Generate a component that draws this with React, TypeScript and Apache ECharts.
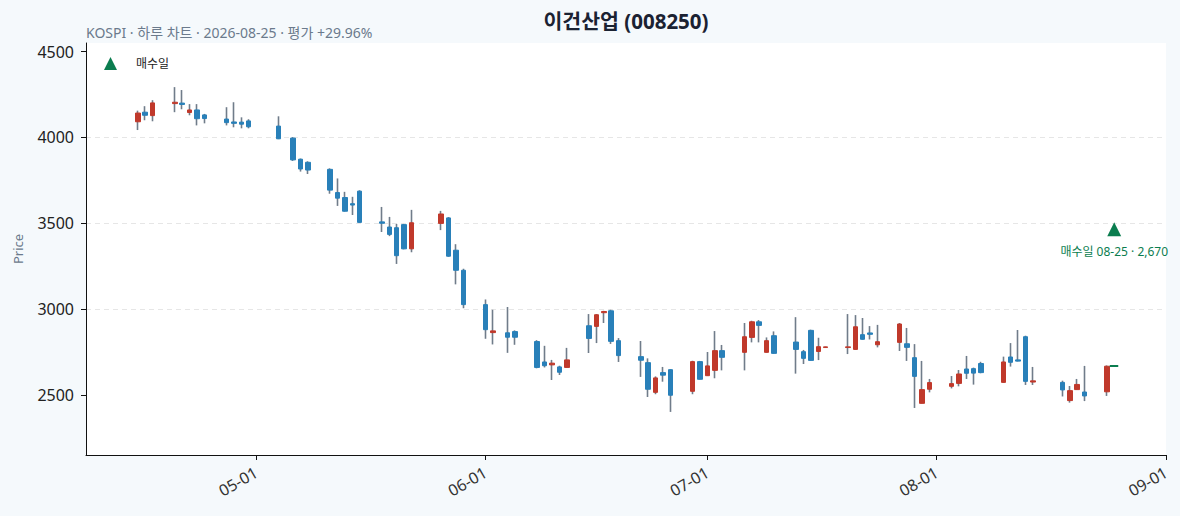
import React, { useEffect, useRef } from "react";
import * as echarts from "echarts";

// daily candles (KRW)
const dates = [
  "2026-04-15", "2026-04-16", "2026-04-17", "2026-04-20", "2026-04-21", "2026-04-22", "2026-04-23", "2026-04-24",
  "2026-04-27", "2026-04-28", "2026-04-29", "2026-04-30", "2026-05-04", "2026-05-06", "2026-05-07", "2026-05-08",
  "2026-05-11", "2026-05-12", "2026-05-13", "2026-05-14", "2026-05-15", "2026-05-18", "2026-05-19", "2026-05-20",
  "2026-05-21", "2026-05-22", "2026-05-26", "2026-05-27", "2026-05-28", "2026-05-29", "2026-06-01", "2026-06-02",
  "2026-06-04", "2026-06-05", "2026-06-08", "2026-06-09", "2026-06-10", "2026-06-11", "2026-06-12", "2026-06-15",
  "2026-06-16", "2026-06-17", "2026-06-18", "2026-06-19", "2026-06-22", "2026-06-23", "2026-06-24", "2026-06-25",
  "2026-06-26", "2026-06-29", "2026-06-30", "2026-07-01", "2026-07-02", "2026-07-03", "2026-07-06", "2026-07-07",
  "2026-07-08", "2026-07-09", "2026-07-10", "2026-07-13", "2026-07-14", "2026-07-15", "2026-07-16", "2026-07-17",
  "2026-07-20", "2026-07-21", "2026-07-22", "2026-07-23", "2026-07-24", "2026-07-27", "2026-07-28", "2026-07-29",
  "2026-07-30", "2026-07-31", "2026-08-03", "2026-08-04", "2026-08-05", "2026-08-06", "2026-08-07", "2026-08-10",
  "2026-08-11", "2026-08-12", "2026-08-13", "2026-08-14", "2026-08-18", "2026-08-19", "2026-08-20", "2026-08-21",
  "2026-08-24",
];
const opens = [
  4091, 4147, 4127, 4197, 4200, 4145, 4160, 4131, 4107, 4090, 4089, 4096, 4066, 3996, 3873, 3855,
  3814, 3679, 3650, 3614, 3687, 3508, 3478, 3474, 3492, 3351, 3499, 3531, 3343, 3226, 3026, 2863,
  2862, 2869, 2811, 2692, 2675, 2663, 2660, 2903, 2899, 2979, 2990, 2816, 2723, 2688, 2515, 2630,
  2647, 2521, 2694, 2612, 2643, 2758, 2748, 2835, 2926, 2748, 2845, 2808, 2752, 2876, 2753, 2776,
  2776, 2765, 2851, 2861, 2792, 2806, 2798, 2717, 2451, 2533, 2550, 2567, 2651, 2653, 2683, 2573,
  2721, 2704, 2839, 2575, 2573, 2467, 2531, 2517, 2518,
];
const closes = [
  4142, 4129, 4201, 4205, 4192, 4160, 4109, 4110, 4086, 4082, 4077, 4062, 3992, 3869, 3816, 3810,
  3693, 3646, 3570, 3606, 3505, 3500, 3435, 3311, 3351, 3503, 3554, 3308, 3226, 3026, 2880, 2873,
  2836, 2836, 2660, 2670, 2685, 2632, 2704, 2829, 2967, 2986, 2812, 2729, 2702, 2533, 2599, 2615,
  2498, 2694, 2591, 2669, 2758, 2719, 2839, 2926, 2905, 2816, 2742, 2765, 2713, 2701, 2781, 2780,
  2780, 2897, 2824, 2853, 2810, 2913, 2777, 2608, 2531, 2572, 2566, 2622, 2626, 2627, 2630, 2692,
  2690, 2697, 2579, 2582, 2529, 2525, 2561, 2494, 2667,
];
const lows = [
  4043, 4100, 4094, 4147, 4164, 4129, 4070, 4082, 4070, 4059, 4053, 4053, 3990, 3863, 3801, 3787,
  3672, 3601, 3568, 3548, 3503, 3449, 3425, 3263, 3348, 3331, 3460, 3305, 3144, 3005, 2827, 2794,
  2745, 2792, 2655, 2660, 2587, 2616, 2659, 2744, 2802, 2919, 2797, 2692, 2605, 2488, 2504, 2577,
  2401, 2504, 2590, 2611, 2597, 2643, 2643, 2806, 2806, 2747, 2741, 2624, 2680, 2700, 2703, 2775,
  2738, 2764, 2822, 2823, 2777, 2756, 2698, 2424, 2450, 2515, 2538, 2550, 2593, 2560, 2626, 2572,
  2665, 2695, 2558, 2558, 2491, 2455, 2530, 2464, 2494,
];
const highs = [
  4156, 4182, 4217, 4293, 4276, 4194, 4194, 4137, 4176, 4205, 4117, 4106, 4123, 4002, 3877, 3861,
  3820, 3761, 3683, 3654, 3692, 3595, 3537, 3496, 3496, 3578, 3572, 3536, 3378, 3235, 3056, 2996,
  3012, 2876, 2819, 2786, 2704, 2670, 2774, 2971, 2971, 2990, 2996, 2831, 2814, 2713, 2608, 2663,
  2649, 2699, 2698, 2750, 2872, 2791, 2919, 2932, 2936, 2835, 2870, 2953, 2762, 2880, 2833, 2781,
  2971, 2965, 2948, 2901, 2908, 2919, 2890, 2796, 2698, 2593, 2610, 2645, 2727, 2659, 2693, 2723,
  2802, 2878, 2845, 2663, 2583, 2552, 2593, 2669, 2672,
];

// buy day (drawn green) and the marker above it
const buyDate = "2026-08-25";
const buyCandle = [2667, 2670, 2667, 2670]; // open, close, low, high
const buyPrice = 2670;
const buyMarkerLevel = 3465;

const priceTicks = [2500, 3000, 3500, 4000, 4500];
const monthTicks = ["2026-05-01", "2026-06-01", "2026-07-01", "2026-08-01", "2026-09-01"];

const FONT = "'Noto Sans', 'Noto Sans CJK KR', sans-serif";
const RED = "#c0392b";
const BLUE = "#2980b9";
const WICK = "#707c8a";
const GREEN = "#0b7d4f";

const ts = (d: string) => {
  const [y, m, day] = d.split("-").map(Number);
  return Date.UTC(y, m - 1, day);
};

const App = () => {
  const chartRef = useRef<HTMLDivElement>(null);

  useEffect(() => {
    document.body.style.background = "#f5f9fc";
    if (!chartRef.current) return;
    const chart = echarts.init(chartRef.current, null, { renderer: "svg" });

    const wickData = dates.map((d, i) => [ts(d), opens[i], closes[i], lows[i], highs[i]]);
    const bodyData = dates.map((d, i) => [
      ts(d),
      opens[i],
      closes[i],
      Math.min(opens[i], closes[i]),
      Math.max(opens[i], closes[i]),
    ]);

    const option = {
      animation: false,
      textStyle: { fontFamily: FONT },
      graphic: [
        {
          type: "text",
          x: 618,
          y: 13,
          style: {
            text: "이건산업 (008250)",
            fill: "#1b2232",
            fontSize: 20.5,
            fontWeight: "bold",
            fontFamily: FONT,
            align: "center",
            verticalAlign: "middle",
          },
        },
        {
          type: "text",
          x: 78,
          y: 24,
          style: {
            text: "KOSPI · 하루 차트 · 2026-08-25 · 평가 +29.96%",
            fill: "#6b7a8c",
            fontSize: 14,
            fontFamily: FONT,
            align: "left",
            verticalAlign: "middle",
          },
        },
      ],
      legend: {
        data: ["매수일"],
        left: 96,
        top: 49,
        padding: 0,
        icon: "triangle",
        itemWidth: 13,
        itemHeight: 13,
        itemStyle: { opacity: 1 },
        textStyle: { fontSize: 12, color: "#222", padding: [0, 0, 0, 14] },
      },
      grid: {
        left: 78,
        right: 6,
        top: 35,
        bottom: 53,
        containLabel: false,
        outerBoundsMode: "none",
        show: true,
        backgroundColor: "#ffffff",
        borderWidth: 0,
      },
      xAxis: {
        type: "value",
        min: ts("2026-04-08"),
        max: ts("2026-09-01"),
        axisLine: { lineStyle: { color: "#111", width: 1 } },
        axisTick: {
          customValues: monthTicks.map(ts),
          length: 5,
          lineStyle: { color: "#111" },
        },
        axisLabel: {
          customValues: monthTicks.map(ts),
          rotate: 30,
          margin: 16,
          fontSize: 16,
          color: "#333",
          formatter: (v: number) => {
            const d = new Date(v);
            const mm = String(d.getUTCMonth() + 1).padStart(2, "0");
            const dd = String(d.getUTCDate()).padStart(2, "0");
            return `${mm}-${dd}`;
          },
        },
        splitLine: { show: false },
      },
      yAxis: {
        type: "value",
        min: 2150,
        max: 4550,
        name: "Price",
        nameLocation: "middle",
        nameGap: 62,
        nameTextStyle: { color: "#6b7a8c", fontSize: 13 },
        axisLine: { show: true, lineStyle: { color: "#111", width: 1 } },
        axisTick: { show: true, customValues: priceTicks, length: 5, lineStyle: { color: "#111" } },
        axisLabel: {
          customValues: priceTicks,
          fontSize: 16,
          color: "#222",
          margin: 12,
          formatter: (v: number) => String(v),
        },
        splitLine: {
          show: true,
          showMinLine: false,
          showMaxLine: false,
          lineStyle: { color: "#e6e6e6", type: [5, 4] },
        },
      },
      series: [
        {
          name: "고저",
          type: "candlestick",
          data: wickData,
          encode: { x: 0, y: [1, 2, 3, 4] },
          barWidth: 0.5,
          silent: true,
          itemStyle: {
            color: WICK,
            color0: WICK,
            borderColor: WICK,
            borderColor0: WICK,
            borderColorDoji: WICK,
            borderWidth: 1.6,
          },
        },
        {
          name: "시가/종가",
          type: "candlestick",
          data: bodyData,
          encode: { x: 0, y: [1, 2, 3, 4] },
          barWidth: 5,
          itemStyle: {
            color: RED,
            color0: BLUE,
            borderColor: RED,
            borderColor0: BLUE,
            borderWidth: 1,
          },
        },
        {
          name: "당일",
          type: "candlestick",
          data: [[ts(buyDate), ...buyCandle]],
          encode: { x: 0, y: [1, 2, 3, 4] },
          barWidth: 8,
          itemStyle: {
            color: GREEN,
            color0: GREEN,
            borderColor: GREEN,
            borderColor0: GREEN,
            borderColorDoji: GREEN,
            borderWidth: 1.5,
          },
        },
        {
          name: "매수일",
          type: "scatter",
          data: [[ts(buyDate), buyMarkerLevel]],
          symbol: "triangle",
          symbolSize: 14,
          itemStyle: { color: GREEN, opacity: 1 },
          label: {
            show: true,
            position: "bottom",
            distance: 9,
            formatter: `매수일 ${buyDate.slice(5)} · ${buyPrice.toLocaleString("en-US")}`,
            color: GREEN,
            fontSize: 12,
          },
        },
      ],
    };

    chart.setOption(option);

    const handleResize = () => chart.resize();
    window.addEventListener("resize", handleResize);

    return () => {
      window.removeEventListener("resize", handleResize);
      chart.dispose();
    };
  }, []);

  return <div ref={chartRef} style={{ width: "100%", height: "500px" }} />;
};

export default App;
